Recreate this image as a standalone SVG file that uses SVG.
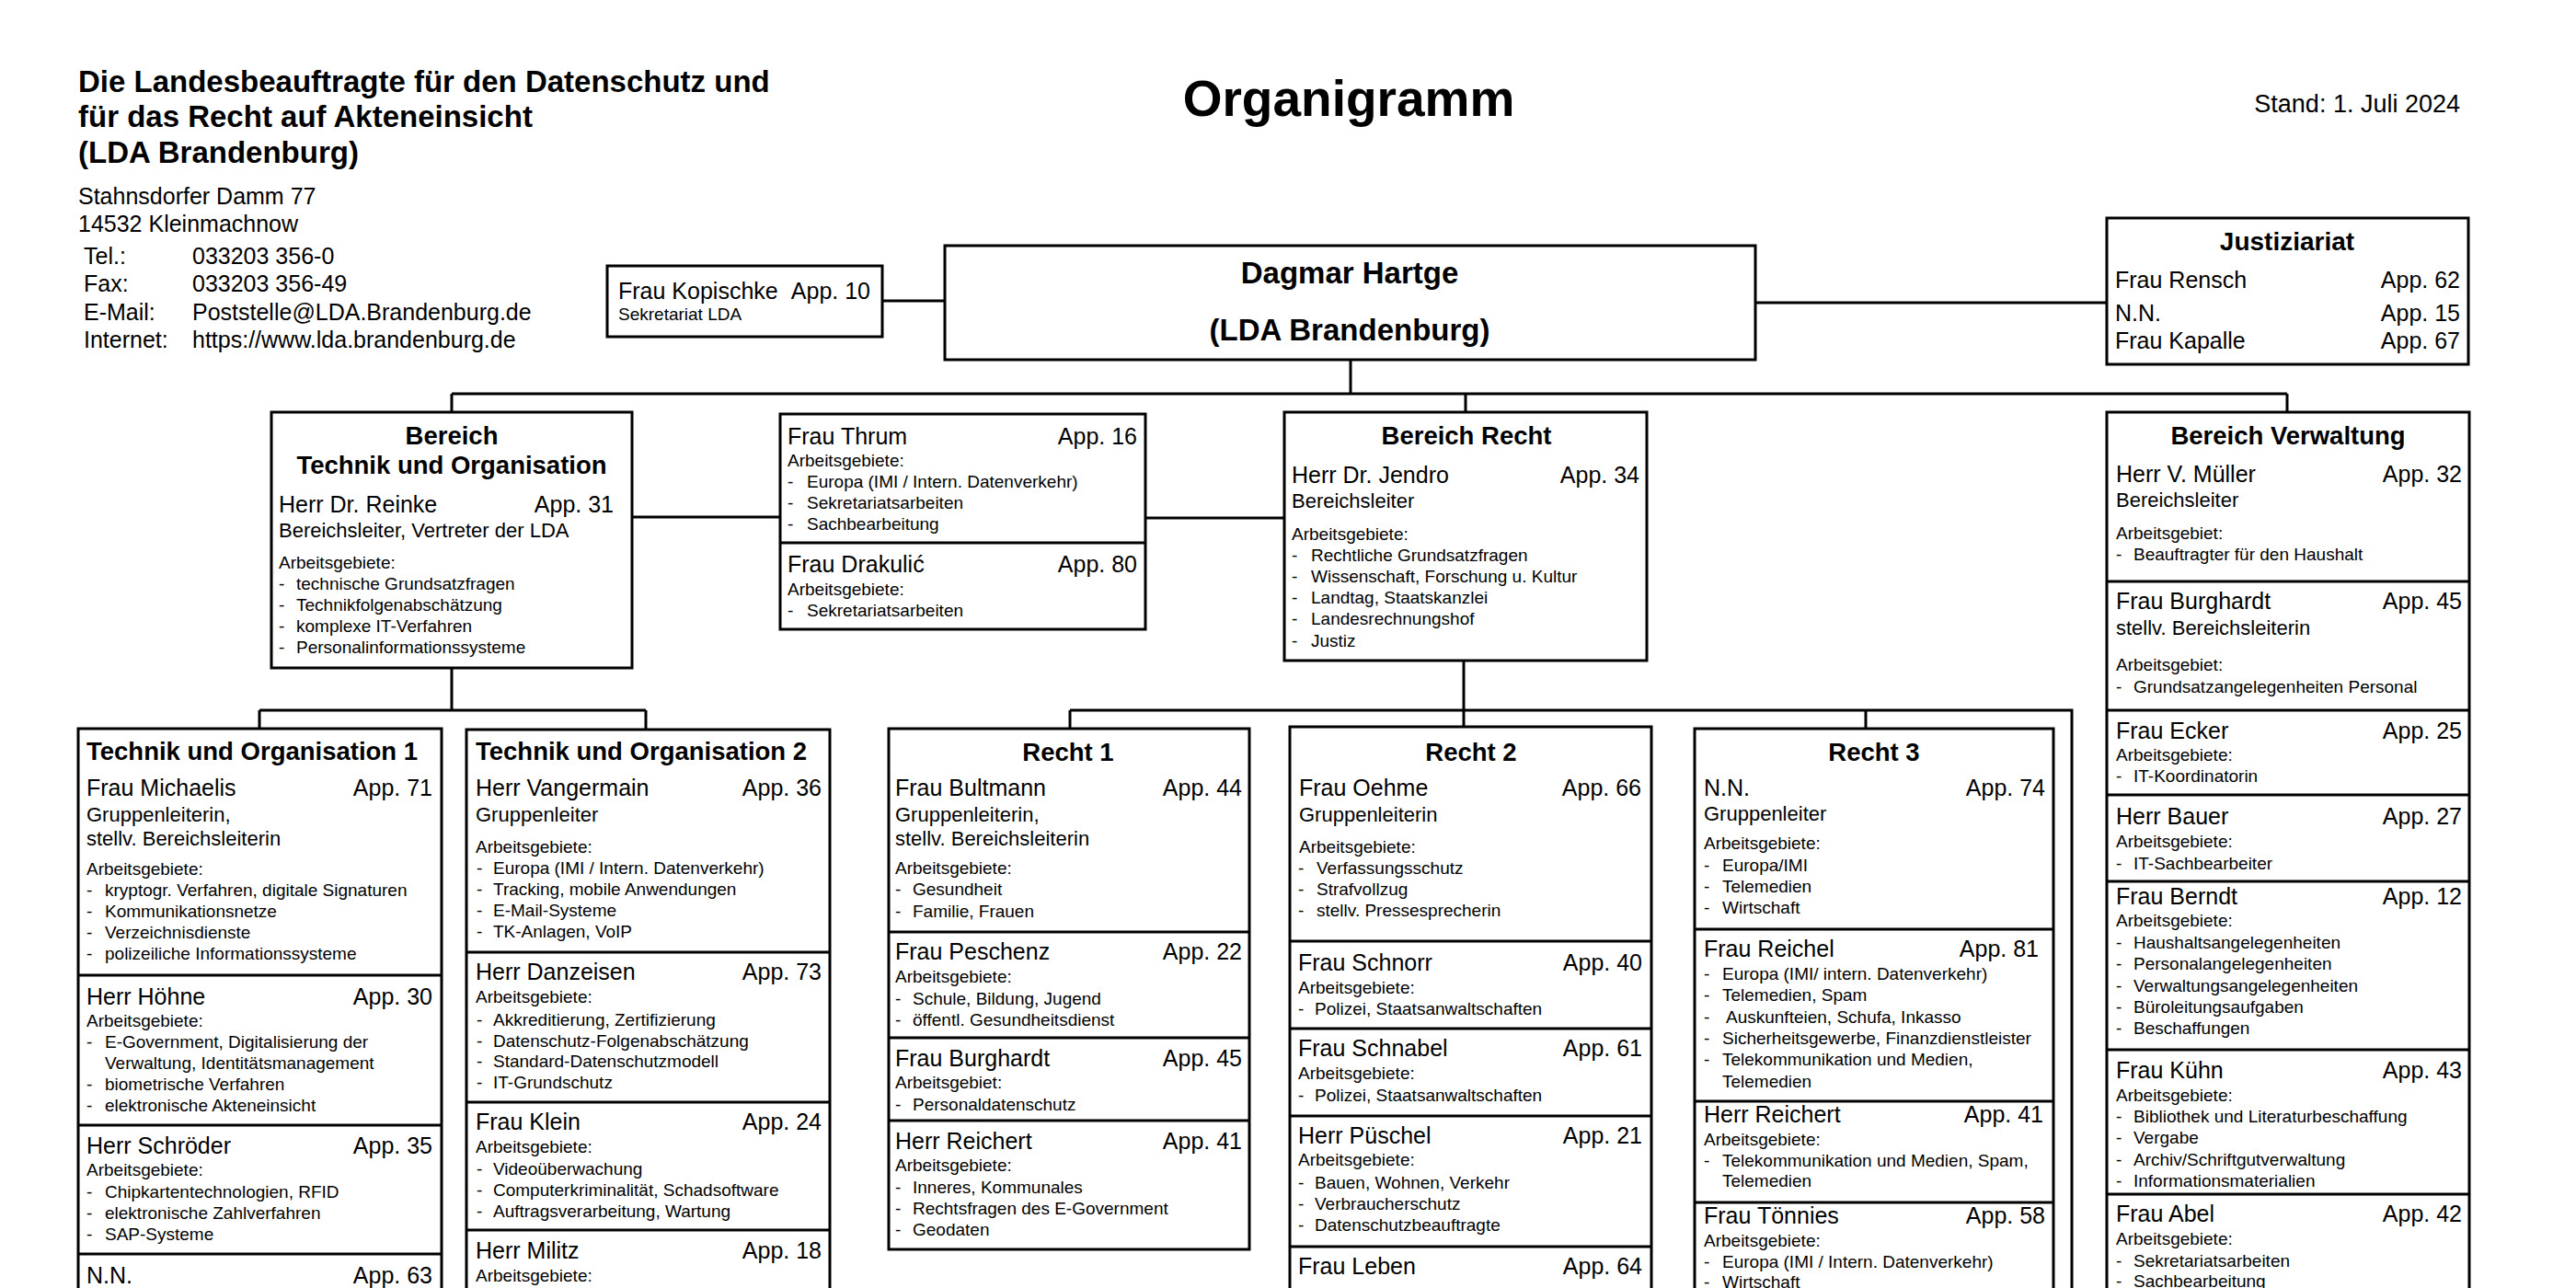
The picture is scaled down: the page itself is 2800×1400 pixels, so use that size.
<svg xmlns="http://www.w3.org/2000/svg" width="2800" height="1400" viewBox="0 0 2800 1400">
<style>
text{font-family:"Liberation Sans",Arial,sans-serif;fill:#000}
.h1{font-size:33px;font-weight:bold}
.big{font-size:55px;font-weight:bold}
.ttl{font-size:27.5px;font-weight:bold}
.c{text-anchor:middle}
.e{text-anchor:end}
.adr{font-size:25px}
.nm{font-size:25px}
.sub{font-size:22px}
.sm{font-size:19px}
.box{fill:#fff;stroke:#000;stroke-width:3}
.sep{stroke:#000;stroke-width:3}
.conn{fill:none;stroke:#000;stroke-width:3}
</style>
<rect width="2800" height="1400" fill="#fff"/>

<g id="connectors">
<path class="conn" d="M959,327H1027M1908,329H2290M1468,391V428M491,428H2486M491,428V448M1593,428V448M2486,428V448"/>
<path class="conn" d="M687,562H848M1245,563H1396"/>
<path class="conn" d="M491,726V772M282,772H702M282,772V792M702,772V793"/>
<path class="conn" d="M1591,718V772M1163,772H2252V1420M1163,772V792M1591,772V790M2028,772V792"/>
</g>

<g id="header">
<text class="h1" x="85" y="100">Die Landesbeauftragte für den Datenschutz und</text>
<text class="h1" x="85" y="138">für das Recht auf Akteneinsicht</text>
<text class="h1" x="85" y="177">(LDA Brandenburg)</text>
<text class="adr" x="85" y="222">Stahnsdorfer Damm 77</text>
<text class="adr" x="85" y="252">14532 Kleinmachnow</text>
<text class="adr" x="91" y="287">Tel.:</text><text class="adr" x="209" y="287">033203 356-0</text>
<text class="adr" x="91" y="317">Fax:</text><text class="adr" x="209" y="317">033203 356-49</text>
<text class="adr" x="91" y="348">E-Mail:</text><text class="adr" x="209" y="348">Poststelle@LDA.Brandenburg.de</text>
<text class="adr" x="91" y="378">Internet:</text><text class="adr" x="209" y="378">https://www.lda.brandenburg.de</text>
<text class="big c" x="1466" y="126">Organigramm</text>
<text class="e" x="2674" y="122" style="font-size:27px">Stand: 1. Juli 2024</text>
</g>

<g id="kopischke">
<rect class="box" x="660" y="289" width="299" height="77"/>
<text class="nm" x="672" y="325">Frau Kopischke</text><text class="nm e" x="946" y="325">App. 10</text>
<text class="sm" x="672" y="348">Sekretariat LDA</text>
</g>

<g id="hartge">
<rect class="box" x="1027" y="267" width="881" height="124"/>
<text class="h1 c" x="1467" y="308">Dagmar Hartge</text>
<text class="h1 c" x="1467" y="370">(LDA Brandenburg)</text>
</g>

<g id="justiziariat">
<rect class="box" x="2290" y="237" width="393" height="159"/>
<text class="c" x="2486" y="272" style="font-size:28px;font-weight:bold">Justiziariat</text>
<text class="nm" x="2299" y="313">Frau Rensch</text><text class="nm e" x="2674" y="313">App. 62</text>
<text class="nm" x="2299" y="349">N.N.</text><text class="nm e" x="2674" y="349">App. 15</text>
<text class="nm" x="2299" y="379">Frau Kapalle</text><text class="nm e" x="2674" y="379">App. 67</text>
</g>

<g id="bereich-to">
<rect class="box" x="295" y="448" width="392" height="278"/>
<text class="ttl c" x="491" y="483">Bereich</text>
<text class="ttl c" x="491" y="515">Technik und Organisation</text>
<text class="nm" x="303" y="557">Herr Dr. Reinke</text><text class="nm e" x="667" y="557">App. 31</text>
<text class="sub" x="303" y="584">Bereichsleiter, Vertreter der LDA</text>
<text class="sm" x="303" y="618">Arbeitsgebiete:</text>
<text class="sm" y="641"><tspan x="303">-</tspan><tspan x="322">technische Grundsatzfragen</tspan></text>
<text class="sm" y="664"><tspan x="303">-</tspan><tspan x="322">Technikfolgenabschätzung</tspan></text>
<text class="sm" y="687"><tspan x="303">-</tspan><tspan x="322">komplexe IT-Verfahren</tspan></text>
<text class="sm" y="710"><tspan x="303">-</tspan><tspan x="322">Personalinformationssysteme</tspan></text>
</g>

<g id="thrum">
<rect class="box" x="848" y="450" width="397" height="234"/>
<line class="sep" x1="848" y1="590" x2="1245" y2="590"/>
<text class="nm" x="856" y="483">Frau Thrum</text><text class="nm e" x="1236" y="483">App. 16</text>
<text class="sm" x="856" y="507">Arbeitsgebiete:</text>
<text class="sm" y="530"><tspan x="856">-</tspan><tspan x="877">Europa (IMI / Intern. Datenverkehr)</tspan></text>
<text class="sm" y="553"><tspan x="856">-</tspan><tspan x="877">Sekretariatsarbeiten</tspan></text>
<text class="sm" y="576"><tspan x="856">-</tspan><tspan x="877">Sachbearbeitung</tspan></text>
<text class="nm" x="856" y="622">Frau Drakulić</text><text class="nm e" x="1236" y="622">App. 80</text>
<text class="sm" x="856" y="647">Arbeitsgebiete:</text>
<text class="sm" y="670"><tspan x="856">-</tspan><tspan x="877">Sekretariatsarbeiten</tspan></text>
</g>

<g id="bereich-recht">
<rect class="box" x="1396" y="448" width="394" height="270"/>
<text class="ttl c" x="1594" y="483">Bereich Recht</text>
<text class="nm" x="1404" y="525">Herr Dr. Jendro</text><text class="nm e" x="1782" y="525">App. 34</text>
<text class="sub" x="1404" y="552">Bereichsleiter</text>
<text class="sm" x="1404" y="587">Arbeitsgebiete:</text>
<text class="sm" y="610"><tspan x="1404">-</tspan><tspan x="1425">Rechtliche Grundsatzfragen</tspan></text>
<text class="sm" y="633"><tspan x="1404">-</tspan><tspan x="1425">Wissenschaft, Forschung u. Kultur</tspan></text>
<text class="sm" y="656"><tspan x="1404">-</tspan><tspan x="1425">Landtag, Staatskanzlei</tspan></text>
<text class="sm" y="679"><tspan x="1404">-</tspan><tspan x="1425">Landesrechnungshof</tspan></text>
<text class="sm" y="703"><tspan x="1404">-</tspan><tspan x="1425">Justiz</tspan></text>
</g>

<g id="bereich-verwaltung">
<rect class="box" x="2290" y="448" width="394" height="980"/>
<line class="sep" x1="2290" y1="632" x2="2684" y2="632"/>
<line class="sep" x1="2290" y1="772" x2="2684" y2="772"/>
<line class="sep" x1="2290" y1="864" x2="2684" y2="864"/>
<line class="sep" x1="2290" y1="958" x2="2684" y2="958"/>
<line class="sep" x1="2290" y1="1141" x2="2684" y2="1141"/>
<line class="sep" x1="2290" y1="1298" x2="2684" y2="1298"/>
<text class="ttl c" x="2487" y="483">Bereich Verwaltung</text>
<text class="nm" x="2300" y="524">Herr V. Müller</text><text class="nm e" x="2676" y="524">App. 32</text>
<text class="sub" x="2300" y="551">Bereichsleiter</text>
<text class="sm" x="2300" y="586">Arbeitsgebiet:</text>
<text class="sm" y="609"><tspan x="2300">-</tspan><tspan x="2319">Beauftragter für den Haushalt</tspan></text>
<text class="nm" x="2300" y="662">Frau Burghardt</text><text class="nm e" x="2676" y="662">App. 45</text>
<text class="sub" x="2300" y="690">stellv. Bereichsleiterin</text>
<text class="sm" x="2300" y="729">Arbeitsgebiet:</text>
<text class="sm" y="753"><tspan x="2300">-</tspan><tspan x="2319">Grundsatzangelegenheiten Personal</tspan></text>
<text class="nm" x="2300" y="803">Frau Ecker</text><text class="nm e" x="2676" y="803">App. 25</text>
<text class="sm" x="2300" y="827">Arbeitsgebiete:</text>
<text class="sm" y="850"><tspan x="2300">-</tspan><tspan x="2319">IT-Koordinatorin</tspan></text>
<text class="nm" x="2300" y="896">Herr Bauer</text><text class="nm e" x="2676" y="896">App. 27</text>
<text class="sm" x="2300" y="921">Arbeitsgebiete:</text>
<text class="sm" y="945"><tspan x="2300">-</tspan><tspan x="2319">IT-Sachbearbeiter</tspan></text>
<text class="nm" x="2300" y="983">Frau Berndt</text><text class="nm e" x="2676" y="983">App. 12</text>
<text class="sm" x="2300" y="1007">Arbeitsgebiete:</text>
<text class="sm" y="1031"><tspan x="2300">-</tspan><tspan x="2319">Haushaltsangelegenheiten</tspan></text>
<text class="sm" y="1054"><tspan x="2300">-</tspan><tspan x="2319">Personalangelegenheiten</tspan></text>
<text class="sm" y="1078"><tspan x="2300">-</tspan><tspan x="2319">Verwaltungsangelegenheiten</tspan></text>
<text class="sm" y="1101"><tspan x="2300">-</tspan><tspan x="2319">Büroleitungsaufgaben</tspan></text>
<text class="sm" y="1124"><tspan x="2300">-</tspan><tspan x="2319">Beschaffungen</tspan></text>
<text class="nm" x="2300" y="1172">Frau Kühn</text><text class="nm e" x="2676" y="1172">App. 43</text>
<text class="sm" x="2300" y="1197">Arbeitsgebiete:</text>
<text class="sm" y="1220"><tspan x="2300">-</tspan><tspan x="2319">Bibliothek und Literaturbeschaffung</tspan></text>
<text class="sm" y="1243"><tspan x="2300">-</tspan><tspan x="2319">Vergabe</tspan></text>
<text class="sm" y="1267"><tspan x="2300">-</tspan><tspan x="2319">Archiv/Schriftgutverwaltung</tspan></text>
<text class="sm" y="1290"><tspan x="2300">-</tspan><tspan x="2319">Informationsmaterialien</tspan></text>
<text class="nm" x="2300" y="1328">Frau Abel</text><text class="nm e" x="2676" y="1328">App. 42</text>
<text class="sm" x="2300" y="1353">Arbeitsgebiete:</text>
<text class="sm" y="1377"><tspan x="2300">-</tspan><tspan x="2319">Sekretariatsarbeiten</tspan></text>
<text class="sm" y="1399"><tspan x="2300">-</tspan><tspan x="2319">Sachbearbeitung</tspan></text>
</g>

<g id="to1">
<rect class="box" x="85" y="792" width="395" height="640"/>
<line class="sep" x1="85" y1="1060" x2="480" y2="1060"/>
<line class="sep" x1="85" y1="1223" x2="480" y2="1223"/>
<line class="sep" x1="85" y1="1363" x2="480" y2="1363"/>
<text class="ttl" x="94" y="826">Technik und Organisation 1</text>
<text class="nm" x="94" y="865">Frau Michaelis</text><text class="nm e" x="470" y="865">App. 71</text>
<text class="sub" x="94" y="893">Gruppenleiterin,</text>
<text class="sub" x="94" y="919">stellv. Bereichsleiterin</text>
<text class="sm" x="94" y="951">Arbeitsgebiete:</text>
<text class="sm" y="974"><tspan x="94">-</tspan><tspan x="114">kryptogr. Verfahren, digitale Signaturen</tspan></text>
<text class="sm" y="997"><tspan x="94">-</tspan><tspan x="114">Kommunikationsnetze</tspan></text>
<text class="sm" y="1020"><tspan x="94">-</tspan><tspan x="114">Verzeichnisdienste</tspan></text>
<text class="sm" y="1043"><tspan x="94">-</tspan><tspan x="114">polizeiliche Informationssysteme</tspan></text>
<text class="nm" x="94" y="1092">Herr Höhne</text><text class="nm e" x="470" y="1092">App. 30</text>
<text class="sm" x="94" y="1116">Arbeitsgebiete:</text>
<text class="sm" y="1139"><tspan x="94">-</tspan><tspan x="114">E-Government, Digitalisierung der</tspan></text>
<text class="sm" x="114" y="1162">Verwaltung, Identitätsmanagement</text>
<text class="sm" y="1185"><tspan x="94">-</tspan><tspan x="114">biometrische Verfahren</tspan></text>
<text class="sm" y="1208"><tspan x="94">-</tspan><tspan x="114">elektronische Akteneinsicht</tspan></text>
<text class="nm" x="94" y="1254">Herr Schröder</text><text class="nm e" x="470" y="1254">App. 35</text>
<text class="sm" x="94" y="1278">Arbeitsgebiete:</text>
<text class="sm" y="1302"><tspan x="94">-</tspan><tspan x="114">Chipkartentechnologien, RFID</tspan></text>
<text class="sm" y="1325"><tspan x="94">-</tspan><tspan x="114">elektronische Zahlverfahren</tspan></text>
<text class="sm" y="1348"><tspan x="94">-</tspan><tspan x="114">SAP-Systeme</tspan></text>
<text class="nm" x="94" y="1395">N.N.</text><text class="nm e" x="470" y="1395">App. 63</text>
</g>

<g id="to2">
<rect class="box" x="507" y="793" width="395" height="640"/>
<line class="sep" x1="507" y1="1035" x2="902" y2="1035"/>
<line class="sep" x1="507" y1="1198" x2="902" y2="1198"/>
<line class="sep" x1="507" y1="1337" x2="902" y2="1337"/>
<text class="ttl" x="517" y="826">Technik und Organisation 2</text>
<text class="nm" x="517" y="865">Herr Vangermain</text><text class="nm e" x="893" y="865">App. 36</text>
<text class="sub" x="517" y="893">Gruppenleiter</text>
<text class="sm" x="517" y="927">Arbeitsgebiete:</text>
<text class="sm" y="950"><tspan x="518">-</tspan><tspan x="536">Europa (IMI / Intern. Datenverkehr)</tspan></text>
<text class="sm" y="973"><tspan x="518">-</tspan><tspan x="536">Tracking, mobile Anwendungen</tspan></text>
<text class="sm" y="996"><tspan x="518">-</tspan><tspan x="536">E-Mail-Systeme</tspan></text>
<text class="sm" y="1019"><tspan x="518">-</tspan><tspan x="536">TK-Anlagen, VoIP</tspan></text>
<text class="nm" x="517" y="1065">Herr Danzeisen</text><text class="nm e" x="893" y="1065">App. 73</text>
<text class="sm" x="517" y="1090">Arbeitsgebiete:</text>
<text class="sm" y="1115"><tspan x="518">-</tspan><tspan x="536">Akkreditierung, Zertifizierung</tspan></text>
<text class="sm" y="1138"><tspan x="518">-</tspan><tspan x="536">Datenschutz-Folgenabschätzung</tspan></text>
<text class="sm" y="1160"><tspan x="518">-</tspan><tspan x="536">Standard-Datenschutzmodell</tspan></text>
<text class="sm" y="1183"><tspan x="518">-</tspan><tspan x="536">IT-Grundschutz</tspan></text>
<text class="nm" x="517" y="1228">Frau Klein</text><text class="nm e" x="893" y="1228">App. 24</text>
<text class="sm" x="517" y="1253">Arbeitsgebiete:</text>
<text class="sm" y="1277"><tspan x="518">-</tspan><tspan x="536">Videoüberwachung</tspan></text>
<text class="sm" y="1300"><tspan x="518">-</tspan><tspan x="536">Computerkriminalität, Schadsoftware</tspan></text>
<text class="sm" y="1323"><tspan x="518">-</tspan><tspan x="536">Auftragsverarbeitung, Wartung</tspan></text>
<text class="nm" x="517" y="1368">Herr Militz</text><text class="nm e" x="893" y="1368">App. 18</text>
<text class="sm" x="517" y="1393">Arbeitsgebiete:</text>
</g>

<g id="recht1">
<rect class="box" x="966" y="792" width="392" height="566"/>
<line class="sep" x1="966" y1="1013" x2="1358" y2="1013"/>
<line class="sep" x1="966" y1="1128" x2="1358" y2="1128"/>
<line class="sep" x1="966" y1="1218" x2="1358" y2="1218"/>
<text class="ttl c" x="1161" y="827">Recht 1</text>
<text class="nm" x="973" y="865">Frau Bultmann</text><text class="nm e" x="1350" y="865">App. 44</text>
<text class="sub" x="973" y="893">Gruppenleiterin,</text>
<text class="sub" x="973" y="919">stellv. Bereichsleiterin</text>
<text class="sm" x="973" y="950">Arbeitsgebiete:</text>
<text class="sm" y="973"><tspan x="973">-</tspan><tspan x="992">Gesundheit</tspan></text>
<text class="sm" y="997"><tspan x="973">-</tspan><tspan x="992">Familie, Frauen</tspan></text>
<text class="nm" x="973" y="1043">Frau Peschenz</text><text class="nm e" x="1350" y="1043">App. 22</text>
<text class="sm" x="973" y="1068">Arbeitsgebiete:</text>
<text class="sm" y="1092"><tspan x="973">-</tspan><tspan x="992">Schule, Bildung, Jugend</tspan></text>
<text class="sm" y="1115"><tspan x="973">-</tspan><tspan x="992">öffentl. Gesundheitsdienst</tspan></text>
<text class="nm" x="973" y="1159">Frau Burghardt</text><text class="nm e" x="1350" y="1159">App. 45</text>
<text class="sm" x="973" y="1183">Arbeitsgebiet:</text>
<text class="sm" y="1207"><tspan x="973">-</tspan><tspan x="992">Personaldatenschutz</tspan></text>
<text class="nm" x="973" y="1249">Herr Reichert</text><text class="nm e" x="1350" y="1249">App. 41</text>
<text class="sm" x="973" y="1273">Arbeitsgebiete:</text>
<text class="sm" y="1297"><tspan x="973">-</tspan><tspan x="992">Inneres, Kommunales</tspan></text>
<text class="sm" y="1320"><tspan x="973">-</tspan><tspan x="992">Rechtsfragen des E-Government</tspan></text>
<text class="sm" y="1343"><tspan x="973">-</tspan><tspan x="992">Geodaten</tspan></text>
</g>

<g id="recht2">
<rect class="box" x="1402" y="790" width="393" height="640"/>
<line class="sep" x1="1402" y1="1023" x2="1795" y2="1023"/>
<line class="sep" x1="1402" y1="1118" x2="1795" y2="1118"/>
<line class="sep" x1="1402" y1="1213" x2="1795" y2="1213"/>
<line class="sep" x1="1402" y1="1355" x2="1795" y2="1355"/>
<text class="ttl c" x="1599" y="827">Recht 2</text>
<text class="nm" x="1412" y="865">Frau Oehme</text><text class="nm e" x="1784" y="865">App. 66</text>
<text class="sub" x="1412" y="893">Gruppenleiterin</text>
<text class="sm" x="1412" y="927">Arbeitsgebiete:</text>
<text class="sm" y="950"><tspan x="1411">-</tspan><tspan x="1431">Verfassungsschutz</tspan></text>
<text class="sm" y="973"><tspan x="1411">-</tspan><tspan x="1431">Strafvollzug</tspan></text>
<text class="sm" y="996"><tspan x="1411">-</tspan><tspan x="1431">stellv. Pressesprecherin</tspan></text>
<text class="nm" x="1411" y="1055">Frau Schnorr</text><text class="nm e" x="1785" y="1055">App. 40</text>
<text class="sm" x="1411" y="1080">Arbeitsgebiete:</text>
<text class="sm" y="1103"><tspan x="1411">-</tspan><tspan x="1429">Polizei, Staatsanwaltschaften</tspan></text>
<text class="nm" x="1411" y="1148">Frau Schnabel</text><text class="nm e" x="1785" y="1148">App. 61</text>
<text class="sm" x="1411" y="1173">Arbeitsgebiete:</text>
<text class="sm" y="1197"><tspan x="1411">-</tspan><tspan x="1429">Polizei, Staatsanwaltschaften</tspan></text>
<text class="nm" x="1411" y="1243">Herr Püschel</text><text class="nm e" x="1785" y="1243">App. 21</text>
<text class="sm" x="1411" y="1267">Arbeitsgebiete:</text>
<text class="sm" y="1292"><tspan x="1411">-</tspan><tspan x="1429">Bauen, Wohnen, Verkehr</tspan></text>
<text class="sm" y="1315"><tspan x="1411">-</tspan><tspan x="1429">Verbraucherschutz</tspan></text>
<text class="sm" y="1338"><tspan x="1411">-</tspan><tspan x="1429">Datenschutzbeauftragte</tspan></text>
<text class="nm" x="1411" y="1385">Frau Leben</text><text class="nm e" x="1785" y="1385">App. 64</text>
</g>

<g id="recht3">
<rect class="box" x="1842" y="792" width="390" height="640"/>
<line class="sep" x1="1842" y1="1010" x2="2232" y2="1010"/>
<line class="sep" x1="1842" y1="1197" x2="2232" y2="1197"/>
<line class="sep" x1="1842" y1="1307" x2="2232" y2="1307"/>
<text class="ttl c" x="2037" y="827">Recht 3</text>
<text class="nm" x="1852" y="865">N.N.</text><text class="nm e" x="2223" y="865">App. 74</text>
<text class="sub" x="1852" y="892">Gruppenleiter</text>
<text class="sm" x="1852" y="923">Arbeitsgebiete:</text>
<text class="sm" y="947"><tspan x="1852">-</tspan><tspan x="1872">Europa/IMI</tspan></text>
<text class="sm" y="970"><tspan x="1852">-</tspan><tspan x="1872">Telemedien</tspan></text>
<text class="sm" y="993"><tspan x="1852">-</tspan><tspan x="1872">Wirtschaft</tspan></text>
<text class="nm" x="1852" y="1040">Frau Reichel</text><text class="nm e" x="2216" y="1040">App. 81</text>
<text class="sm" y="1065"><tspan x="1852">-</tspan><tspan x="1872">Europa (IMI/ intern. Datenverkehr)</tspan></text>
<text class="sm" y="1088"><tspan x="1852">-</tspan><tspan x="1872">Telemedien, Spam</tspan></text>
<text class="sm" y="1112"><tspan x="1852">-</tspan><tspan x="1876">Auskunfteien, Schufa, Inkasso</tspan></text>
<text class="sm" y="1135"><tspan x="1852">-</tspan><tspan x="1872">Sicherheitsgewerbe, Finanzdienstleister</tspan></text>
<text class="sm" y="1158"><tspan x="1852">-</tspan><tspan x="1872">Telekommunikation und Medien,</tspan></text>
<text class="sm" x="1872" y="1182">Telemedien</text>
<text class="nm" x="1852" y="1220">Herr Reichert</text><text class="nm e" x="2221" y="1220">App. 41</text>
<text class="sm" x="1852" y="1245">Arbeitsgebiete:</text>
<text class="sm" y="1268"><tspan x="1852">-</tspan><tspan x="1872">Telekommunikation und Medien, Spam,</tspan></text>
<text class="sm" x="1872" y="1290">Telemedien</text>
<text class="nm" x="1852" y="1330">Frau Tönnies</text><text class="nm e" x="2223" y="1330">App. 58</text>
<text class="sm" x="1852" y="1355">Arbeitsgebiete:</text>
<text class="sm" y="1378"><tspan x="1852">-</tspan><tspan x="1872">Europa (IMI / Intern. Datenverkehr)</tspan></text>
<text class="sm" y="1400"><tspan x="1852">-</tspan><tspan x="1872">Wirtschaft</tspan></text>
</g>
</svg>
